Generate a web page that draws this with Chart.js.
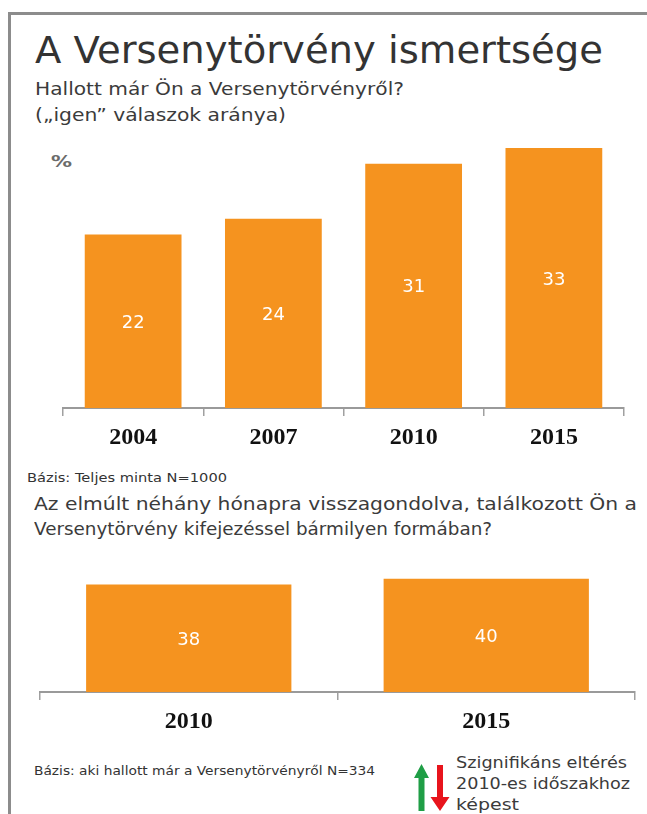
<!DOCTYPE html>
<html>
<head>
<meta charset="utf-8">
<script src="https://cdn.jsdelivr.net/npm/chart.js@4/dist/chart.umd.min.js"></script>
<style>
  html,body{margin:0;padding:0;background:#fff;}
  body{width:647px;height:814px;overflow:hidden;position:relative;font-family:"DejaVu Sans",Verdana,sans-serif;color:#333;}
  .frame{position:absolute;left:8px;top:12px;width:700px;height:900px;border-left:3px solid #8c8c8c;border-top:3px solid #8c8c8c;box-sizing:border-box;}
  .t{position:absolute;white-space:nowrap;line-height:1;transform-origin:0 0;}
  .box{position:absolute;}
</style>
</head>
<body>
<div class="frame"></div>
<div id="texts"></div>
<div class="box" id="b1" style="left:61px;top:140px;width:565px;height:308px;"><canvas id="c1"></canvas></div>
<div class="box" id="b2" style="left:38px;top:576px;width:599px;height:156px;"><canvas id="c2"></canvas></div>
<svg style="position:absolute;left:410px;top:760px" width="45" height="54" viewBox="0 0 45 54">
  <polygon points="4,18 11.5,4 19,18 14.5,18 14.5,51 8.5,51 8.5,18" fill="#1f9e46"/>
  <polygon points="27,5 33,5 33,37 39.5,37 30,51 20.5,37 27,37" fill="#e8141c"/>
</svg>
<script>
// ---- data ----
const categories1 = ['2004', '2007', '2010', '2015'];
const values1 = [22, 24, 31, 33];
const categories2 = ['2010', '2015'];
const values2 = [38, 40];

const title = 'A Versenytörvény ismertsége';
const subtitle1 = 'Hallott már Ön a Versenytörvényről?';
const subtitle2 = '(„igen” válaszok aránya)';
const unitLabel = '%';
const base1 = 'Bázis: Teljes minta N=1000';
const question2a = 'Az elmúlt néhány hónapra visszagondolva, találkozott Ön a';
const question2b = 'Versenytörvény kifejezéssel bármilyen formában?';
const base2 = 'Bázis: aki hallott már a Versenytörvényről N=334';
const legendLines = ['Szignifikáns eltérés', '2010-es időszakhoz', 'képest'];

// ---- text placement ----
const host = document.getElementById('texts');
function addText(str, x, baseline, size, targetW, opts = {}) {
  const d = document.createElement('div');
  d.className = 't';
  d.textContent = str;
  d.style.fontSize = size + 'px';
  d.style.left = x + 'px';
  d.style.top = (baseline - 0.846 * size) + 'px';
  if (opts.bold) d.style.fontWeight = 'bold';
  if (opts.color) d.style.color = opts.color;
  host.appendChild(d);
  if (targetW) {
    const w = d.getBoundingClientRect().width;
    d.style.transform = 'scaleX(' + (targetW / w) + ')';
  }
  return d;
}
addText(title, 35, 63, 37, 568, {color:'#333'});
addText(subtitle1, 35, 95, 18, 369, {color:'#3b3b3b'});
addText(subtitle2, 35, 121, 18, 251, {color:'#3b3b3b'});
addText(unitLabel, 51, 168, 16, 21, {bold:true, color:'#6b6b6b'});
addText(base1, 27, 483, 11.5, 200, {color:'#333'});
addText(question2a, 34, 510, 18, 603, {color:'#3b3b3b'});
addText(question2b, 34, 535, 18, 458, {color:'#3b3b3b'});
addText(base2, 34, 776, 11.5, 341, {color:'#333'});
addText(legendLines[0], 456, 769, 16, 171, {color:'#3b3b3b'});
addText(legendLines[1], 456, 790, 16, 174, {color:'#3b3b3b'});
addText(legendLines[2], 456, 811, 16, 63, {color:'#3b3b3b'});

// ---- charts ----
const orange = '#F5931F';
const valueLabels = {
  id: 'valueLabels',
  afterDatasetsDraw(chart) {
    const ctx = chart.ctx;
    ctx.save();
    ctx.fillStyle = '#ffffff';
    ctx.font = '18px "DejaVu Sans"';
    ctx.textAlign = 'center';
    ctx.textBaseline = 'middle';
    const meta = chart.getDatasetMeta(0);
    meta.data.forEach((bar, i) => {
      const v = chart.data.datasets[0].data[i];
      ctx.fillText(String(v), bar.x, (bar.y + bar.base) / 2 + 2);
    });
    ctx.restore();
  }
};

function makeChart(id, labels, values, yMax) {
  return new Chart(document.getElementById(id), {
    type: 'bar',
    data: {
      labels: labels,
      datasets: [{
        data: values,
        backgroundColor: orange,
        borderWidth: 0,
        categoryPercentage: 1.0,
        barPercentage: 0.69
      }]
    },
    options: {
      responsive: true,
      maintainAspectRatio: false,
      animation: false,
      devicePixelRatio: 1,
      layout: { padding: { left: 2, right: 2, top: 0, bottom: 0 } },
      plugins: { legend: { display: false }, tooltip: { enabled: false }, title: { display: false } },
      scales: {
        y: { display: false, min: 0, max: yMax },
        x: {
          offset: true,
          grid: { display: true, drawOnChartArea: false, drawTicks: true, offset: true, tickLength: 8, color: '#a0a0a0', lineWidth: 1.5 },
          border: { display: true, color: '#9a9a9a', width: 2 },
          ticks: { color: '#111', padding: 7, font: { family: '"Liberation Serif", "Times New Roman", serif', size: 24, weight: 'bold' } },
          afterFit(s) { s.height = 40; }
        }
      }
    },
    plugins: [valueLabels]
  });
}
makeChart('c1', categories1, values1, 34);
makeChart('c2', categories2, values2, 41);
</script>
</body>
</html>
